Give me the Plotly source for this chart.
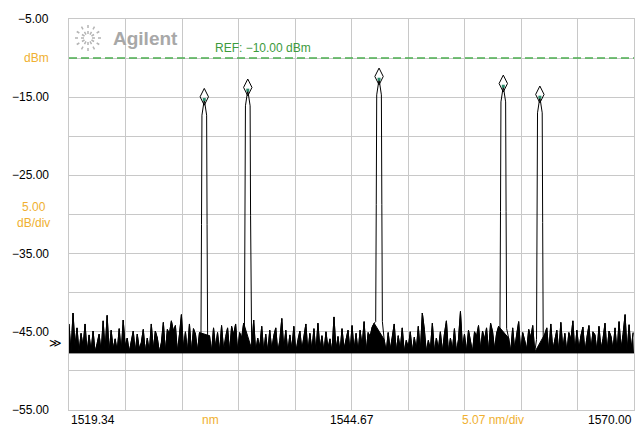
import plotly.graph_objects as go
import math

# ---------------- data ----------------
x_start = 1519.34
x_stop = 1570.00
x_center = 1544.67
nm_per_div = 5.066
y_top = -5.0
y_bottom = -55.0
db_per_div = 5.0
ref_level = -10.0
noise_floor = -47.7

y_tick_values = [-5, -15, -25, -35, -45, -55]
y_tick_labels = ["\u22125.00", "\u221215.00", "\u221225.00", "\u221235.00", "\u221245.00", "\u221255.00"]

peak_wavelengths = [1531.47, 1535.37, 1547.14, 1558.28, 1561.56]
peak_levels = [-15.3, -14.1, -12.7, -13.6, -15.0]
peak_profile_offsets = [-0.30, -0.25, -0.21, 0.0, 0.21, 0.25, 0.30]
peak_profile_drops = [31.0, 16.0, 2.0, 0.0, 2.0, 16.0, 31.0]

noise_step = 0.18
noise_levels = [
    -44.0, -47.6, -42.6, -46.8, -44.5, -47.6, -45.2, -46.9, -44.0, -47.6,
    -45.4, -47.5, -44.9, -47.6, -46.5, -45.3, -47.6, -43.6, -47.3, -42.9,
    -47.6, -44.8, -47.2, -45.9, -47.5, -44.6, -47.6, -43.5, -46.9, -45.8,
    -47.6, -46.2, -44.9, -47.6, -45.3, -47.2, -46.4, -44.7, -47.6, -45.8,
    -47.6, -44.0, -47.3, -44.9, -45.8, -47.6, -46.4, -43.8, -47.6, -44.7,
    -45.3, -43.6, -44.9, -44.2, -47.6, -45.4, -42.8, -47.1, -45.0, -47.6,
    -44.0, -47.6, -44.6, -45.3, -47.5, -45.1, -46.3, -45.7, -44.9, -46.2,
    -45.5, -47.6, -44.5, -47.0, -45.1, -47.6, -44.2, -47.3, -45.6, -44.5,
    -47.6, -44.3, -45.4, -44.0, -47.5, -45.1, -45.8, -43.9, -44.6, -45.3,
    -45.2, -47.2, -43.5, -47.6, -45.8, -47.0, -44.3, -47.6, -45.3, -47.6,
    -44.8, -47.3, -45.5, -44.5, -47.6, -46.1, -43.3, -47.2, -44.8, -47.6,
    -45.4, -47.2, -44.3, -47.6, -46.0, -44.9, -47.3, -45.7, -44.0, -47.6,
    -45.2, -47.4, -44.6, -47.6, -43.9, -47.2, -45.5, -47.6, -45.0, -47.1,
    -45.9, -47.6, -43.1, -47.3, -45.6, -47.6, -44.6, -47.2, -46.0, -44.8,
    -47.6, -44.2, -47.3, -45.2, -47.6, -44.8, -46.8, -43.7, -47.6, -45.1,
    -45.6, -44.4, -43.9, -47.3, -45.2, -44.9, -43.5, -46.0, -47.6, -45.1,
    -47.3, -45.8, -44.0, -47.6, -45.5, -47.2, -44.5, -47.6, -46.1, -47.0,
    -45.0, -47.6, -45.7, -47.3, -44.3, -47.6, -42.6, -44.7, -47.6, -46.1,
    -47.3, -43.9, -47.6, -45.8, -47.2, -45.0, -47.6, -45.3, -43.6, -47.6,
    -45.8, -47.3, -44.6, -47.6, -46.0, -42.4, -47.1, -45.3, -47.6, -44.8,
    -46.1, -47.6, -45.0, -45.6, -44.2, -47.3, -44.9, -46.0, -44.5, -47.6,
    -43.9, -45.0, -47.3, -45.2, -44.3, -47.6, -45.5, -44.9, -44.1, -45.8,
    -47.6, -44.5, -47.2, -45.3, -43.7, -47.6, -45.1, -46.1, -47.3, -44.7,
    -45.8, -44.2, -47.6, -45.0, -45.5, -44.8, -46.5, -45.3, -44.5, -47.6,
    -44.0, -47.3, -45.8, -44.8, -47.6, -43.8, -47.2, -45.2, -47.6, -45.1,
    -46.0, -43.6, -47.6, -44.8, -47.3, -45.5, -44.4, -47.6, -45.7, -44.2,
    -47.3, -45.0, -45.4, -47.6, -44.3, -47.2, -45.9, -43.9, -47.6, -44.9,
    -45.6, -47.3, -44.5, -47.6, -43.7, -47.2, -45.3, -42.8, -47.6, -44.1,
    -47.3, -45.1,
]

# ---------------- build trace ----------------
noise_x, noise_y = [], []
for i, v in enumerate(noise_levels):
    xv = x_start + i * noise_step
    if any(abs(xv - c) < 0.33 for c in peak_wavelengths):
        continue
    noise_x.append(xv)
    noise_y.append(v)
points = list(zip(noise_x, noise_y))
for c, lvl in zip(peak_wavelengths, peak_levels):
    for off, drop in zip(peak_profile_offsets, peak_profile_drops):
        points.append((c + off, lvl - drop))
points.sort()
trace_x = [p[0] for p in points]
trace_y = [p[1] for p in points]

ORANGE = "#f0b030"
GREEN = "#4caf50"
GRID = "#c8c8c8"
FONT = "Liberation Sans"

fig = go.Figure()
# floor for the noise fill
fig.add_trace(go.Scatter(x=[x_start, x_stop], y=[noise_floor, noise_floor], mode="lines",
                         line=dict(color="black", width=1), hoverinfo="skip", showlegend=False))
fig.add_trace(go.Scatter(x=noise_x, y=noise_y, mode="lines", fill="tonexty",
                         fillcolor="black", line=dict(color="black", width=1),
                         hoverinfo="skip", showlegend=False))
fig.add_trace(go.Scatter(x=trace_x, y=trace_y, mode="lines",
                         line=dict(color="black", width=1), hoverinfo="skip",
                         showlegend=False))
# reference level line
fig.add_trace(go.Scatter(x=[x_start, x_stop], y=[ref_level, ref_level], mode="lines",
                         line=dict(color=GREEN, width=1.5, dash="8px,4px"),
                         showlegend=False, hoverinfo="skip"))
# peak markers
fig.add_trace(go.Scatter(x=peak_wavelengths, y=[l + 0.35 for l in peak_levels], mode="markers",
                         marker=dict(symbol="diamond-tall-open", size=12,
                                     color="black", line=dict(width=1, color="black")),
                         showlegend=False, hoverinfo="skip"))
fig.add_trace(go.Scatter(x=peak_wavelengths, y=peak_levels, mode="markers",
                         marker=dict(symbol="square", size=3, color="#2a8a6a"),
                         showlegend=False, hoverinfo="skip"))

x_grid = [x_start + k * nm_per_div for k in range(11)]
y_grid = [y_bottom + k * db_per_div for k in range(11)]

fig.update_layout(
    width=641, height=426,
    margin=dict(l=69, r=7, t=19, b=16),
    paper_bgcolor="white", plot_bgcolor="white",
    font=dict(family=FONT, size=12, color="black"),
    xaxis=dict(range=[x_start, x_stop], tickvals=x_grid, showticklabels=False,
               showgrid=True, gridcolor=GRID, gridwidth=1, zeroline=False,
               showline=True, linecolor=GRID, mirror=True, ticks=""),
    yaxis=dict(range=[y_bottom, y_top], tickvals=y_grid, showticklabels=False,
               showgrid=True, gridcolor=GRID, gridwidth=1, zeroline=False,
               showline=True, linecolor=GRID, mirror=True, ticks=""),
)

ann = []
for v, t in zip(y_tick_values, y_tick_labels):
    ann.append(dict(x=0, xref="paper", y=v, yref="y", text=t, showarrow=False,
                    xanchor="right", yanchor="middle", xshift=-18,
                    font=dict(family=FONT, size=12, color="black")))
ann.append(dict(x=0, xref="paper", y=ref_level, yref="y", text="dBm", showarrow=False,
                xanchor="right", yanchor="middle", xshift=-18,
                font=dict(family=FONT, size=12, color=ORANGE)))
ann.append(dict(x=0, xref="paper", y=(y_top + y_bottom) / 2, yref="y",
                text="5.00<br>dB/div", showarrow=False, align="center",
                xanchor="center", yanchor="middle", xshift=-36,
                font=dict(family=FONT, size=12, color=ORANGE)))
ann.append(dict(x=0, xref="paper", y=-46.4, yref="y", text="\u226b", showarrow=False,
                xanchor="right", yanchor="middle", xshift=-5,
                font=dict(family="DejaVu Sans", size=12, color="black")))
# x labels
ann.append(dict(x=x_start, xref="x", y=0, yref="paper", text="1519.34", showarrow=False,
                xanchor="left", yanchor="middle", yshift=-10))
ann.append(dict(x=x_start + 2.5 * nm_per_div, xref="x", y=0, yref="paper", text="nm", showarrow=False,
                xanchor="center", yanchor="middle", yshift=-10, font=dict(color=ORANGE)))
ann.append(dict(x=x_center, xref="x", y=0, yref="paper", text="1544.67", showarrow=False,
                xanchor="center", yanchor="middle", yshift=-10))
ann.append(dict(x=x_start + 7.5 * nm_per_div, xref="x", y=0, yref="paper", text="5.07 nm/div",
                showarrow=False, xanchor="center", yanchor="middle", yshift=-10,
                font=dict(color=ORANGE)))
ann.append(dict(x=x_stop, xref="x", y=0, yref="paper", text="1570.00", showarrow=False,
                xanchor="right", yanchor="middle", yshift=-10))
# ref text
ann.append(dict(x=0.2549, xref="paper", y=ref_level, yref="y", text="REF: \u221210.00 dBm",
                showarrow=False, xanchor="left", yanchor="bottom", yshift=1,
                font=dict(family=FONT, size=12, color="#3c9a3c")))
# Agilent logo text
ann.append(dict(x=0.0745, xref="paper", y=0.95, yref="paper", text="<b>Agilent</b>",
                showarrow=False, xanchor="left", yanchor="middle",
                font=dict(family=FONT, size=19, color="#a8a8a8")))
fig.update_layout(annotations=ann)

# Agilent starburst (decorative)
W, H = 565.0, 391.0
cx, cy = 19.0 / W, 1 - 19.0 / H
shapes = []
for k in range(12):
    a = k * math.pi / 6
    r0, r1 = 4.0, 14.0
    shapes.append(dict(type="line", xref="paper", yref="paper",
                       x0=cx + r0 * math.cos(a) / W, y0=cy + r0 * math.sin(a) / H,
                       x1=cx + r1 * math.cos(a) / W, y1=cy + r1 * math.sin(a) / H,
                       line=dict(color="#b4b4b4", width=1.5, dash="dot")))
fig.update_layout(shapes=shapes)

fig.write_html("out.html", config={"displayModeBar": False},
               post_script="document.body.style.margin='0';")
